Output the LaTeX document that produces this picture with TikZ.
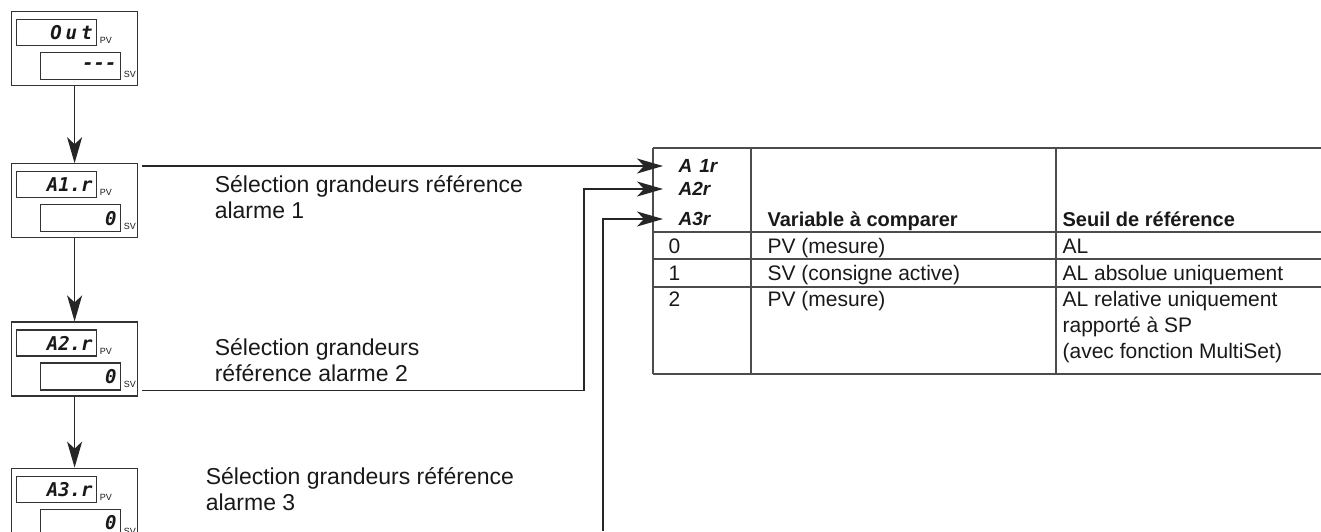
\documentclass[tikz,border=0pt]{standalone}
\usepackage{fontspec}
\setmainfont{Liberation Sans}
\newfontfamily\segfont{DejaVu Sans Mono}
\usetikzlibrary{arrows.meta,positioning}

\begin{document}
\begin{tikzpicture}[x=1pt, y=-1pt, line width=1.2pt, every node/.style={font=\fontsize{21}{25}\selectfont, inner sep=0pt, text=black!90}, unit/.style={draw=black!80, minimum width=126pt, minimum height=74pt}, pvbox/.style={draw=black!80, text width=72pt, inner xsep=4pt, minimum height=26pt, align=right, font=\segfont\bfseries\itshape\fontsize{19}{19}\selectfont}, svbox/.style={pvbox, minimum height=27pt}, tag/.style={anchor=south west, inner sep=2pt, font=\fontsize{9}{9}\selectfont}, lab/.style={align=left, font=\fontsize{23}{26}\selectfont}, sym/.style={anchor=west, inner xsep=15pt, font=\bfseries\itshape\fontsize{19}{19}\selectfont}, hd/.style={anchor=base west, font=\bfseries\fontsize{20}{24}\selectfont}, cell/.style={anchor=base west}, arr/.style={-{Stealth[length=26pt,width=15pt,inset=7pt]}, draw=black!85}, grid/.style={draw=black!70}]
\useasboundingbox (0,0) rectangle (1321,531);
% display units
\node[unit, anchor=north west] (out) at (11,11) {};
\node[unit, below=77pt of out] (a1) {};
\node[unit, below=83pt of a1] (a2) {};
\node[unit, below=71pt of a2] (a3) {};
\node[pvbox, anchor=north west] (outpv) at ([xshift=5pt,yshift=-8pt]out.north west) {O\kern4pt u\kern4pt t};
\node[svbox, anchor=north west] (outsv) at ([xshift=29pt,yshift=-41pt]out.north west) {-{}-{}-};
\node[pvbox, anchor=north west] (a1pv) at ([xshift=5pt,yshift=-8pt]a1.north west) {A1.r};
\node[svbox, anchor=north west] (a1sv) at ([xshift=29pt,yshift=-41pt]a1.north west) {0};
\node[pvbox, anchor=north west] (a2pv) at ([xshift=5pt,yshift=-8pt]a2.north west) {A2.r};
\node[svbox, anchor=north west] (a2sv) at ([xshift=29pt,yshift=-41pt]a2.north west) {0};
\node[pvbox, anchor=north west] (a3pv) at ([xshift=5pt,yshift=-8pt]a3.north west) {A3.r};
\node[svbox, anchor=north west] (a3sv) at ([xshift=29pt,yshift=-41pt]a3.north west) {0};
\node[tag] (outpvt) at (outpv.south east) {PV}; \node[tag] (outsvt) at (outsv.south east) {SV};
\node[tag] (a1pvt) at (a1pv.south east) {PV}; \node[tag] (a1svt) at (a1sv.south east) {SV};
\node[tag] (a2pvt) at (a2pv.south east) {PV}; \node[tag] (a2svt) at (a2sv.south east) {SV};
\node[tag] (a3pvt) at (a3pv.south east) {PV}; \node[tag] (a3svt) at (a3sv.south east) {SV};
\draw[arr] (out) -- (a1); \draw[arr] (a1) -- (a2); \draw[arr] (a2) -- (a3);
% labels
\node[lab, right=76pt of a1, yshift=4pt] (l1) {Sélection grandeurs référence\\alarme 1};
\node[lab, right=76pt of a2, yshift=-1pt] (l2) {Sélection grandeurs\\référence alarme 2};
\node[lab, right=67pt of a3, yshift=16pt] (l3) {Sélection grandeurs référence\\alarme 3};
% table
\foreach \y in {148,232,259,287,374} \draw[grid] (653,\y) -- (1321,\y);
\foreach \x in {653,751,1056} \draw[grid] (\x,148) -- (\x,374);
\node[sym] (s1) at (663,166) {A\kern7pt 1r};
\node[sym] (s2) at (663,189) {A2r};
\node[sym] (s3) at (663,219) {A3r};
\node[hd] (h1) at (767,226) {Variable à comparer};
\node[hd] (h2) at (1062,226) {Seuil de référence};
\node[cell] (r0a) at (668,253) {0};
\node[cell] (r0b) at (767,253) {PV (mesure)};
\node[cell] (r0c) at (1062,253) {AL};
\node[cell] (r1a) at (668,280) {1};
\node[cell] (r1b) at (767,280) {SV (consigne active)};
\node[cell] (r1c) at (1062,280) {AL absolue uniquement};
\node[cell] (r2a) at (668,306) {2};
\node[cell] (r2b) at (767,306) {PV (mesure)};
\node[cell] (r2c) at (1062,306) {AL relative uniquement};
\node[cell] (r2d) at (1062,332) {rapporté à SP};
\node[cell] (r2e) at (1062,358) {(avec fonction MultiSet)};
% connectors
\coordinate (f3) at (603,531);
\draw[arr] ([xshift=4pt]s1.west -| a1.east) -- (s1.west);
\draw[arr] ([xshift=4pt]a2sv.south -| a2.east) -| ([xshift=-79pt]s2.west) -- (s2.west);
\draw[arr] (f3) |- (s3.west);
\end{tikzpicture}
\end{document}
